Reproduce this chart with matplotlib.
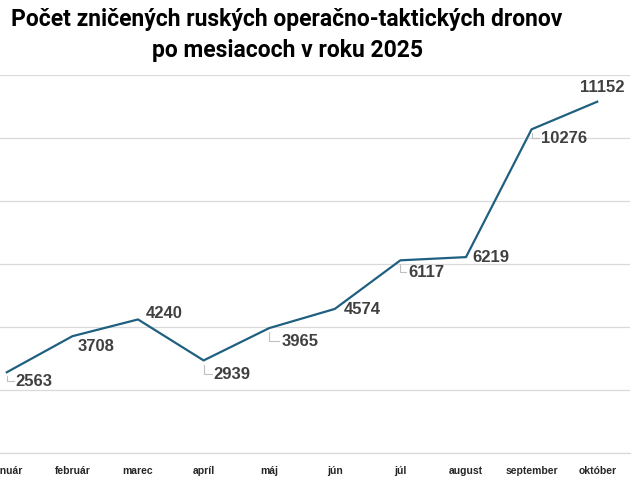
import matplotlib
matplotlib.use("Agg")
import matplotlib.pyplot as plt

months = ["január", "február", "marec", "apríl", "máj", "jún", "júl", "august", "september", "október"]
values = [2563, 3708, 4240, 2939, 3965, 4574, 6117, 6219, 10276, 11152]

# label offsets in pixels (dx to label left edge / centre, dy to label centre), leader flag
label_dx = [9, 5, 8, 10, 12, 9, 8, 6, 9, 5]
label_dy = [-9, -10, 6, -14, -13, -1, -12, 0, -9, 14]
label_ha = ["left"] * 9 + ["center"]
leader = [True, False, False, True, True, False, True, False, True, False]

fig = plt.figure(figsize=(6.4, 4.8), dpi=100)
ax = fig.add_axes([-26 / 640, 1 - 453 / 480, 656 / 640, (453 - 75) / 480])

x = list(range(len(months)))
ax.plot(x, values, color="#1f6080", lw=1.6, zorder=3, solid_joinstyle="round")

ax.set_xlim(-0.5, len(months) - 0.5)
ax.set_ylim(0, 12000)
ax.set_yticks(range(0, 12001, 2000))
ax.yaxis.grid(True, color="#d9d9d9", lw=0.9)
ax.set_axisbelow(True)
ax.tick_params(axis="y", left=False, labelleft=False)
ax.set_xticks(x)
ax.set_xticklabels(months, fontsize=7.5, fontweight="bold", color="#262626",
                   family=["Liberation Sans", "DejaVu Sans"])
ax.tick_params(axis="x", length=0, pad=9)
for s in ["left", "right", "top"]:
    ax.spines[s].set_visible(False)
ax.spines["bottom"].set_color("#d9d9d9")
ax.spines["bottom"].set_linewidth(0.9)

for i, v in enumerate(values):
    ax.annotate(str(v), xy=(i, v), xytext=(label_dx[i], label_dy[i]), textcoords="offset pixels",
                ha=label_ha[i], va="center", fontsize=12, fontweight="bold", color="#404040",
                family=["Liberation Sans", "DejaVu Sans"], zorder=4)
    if leader[i]:
        ax.annotate("", xy=(i, v), xytext=(label_dx[i] - 2, label_dy[i]), textcoords="offset pixels",
                    arrowprops=dict(arrowstyle="-", color="#bfbfbf", lw=0.8, shrinkA=0, shrinkB=3,
                                    connectionstyle="angle,angleA=0,angleB=90,rad=0"), zorder=2)

fig.text(287 / 640, 1 - 35 / 480, "Počet zničených ruských operačno-taktických dronov\npo mesiacoch v roku 2025",
         ha="center", va="center", fontsize=16.5, fontweight="bold", color="#000000",
         family=["Roboto", "DejaVu Sans"], linespacing=1.4)

fig.savefig("out.png", dpi=100)
